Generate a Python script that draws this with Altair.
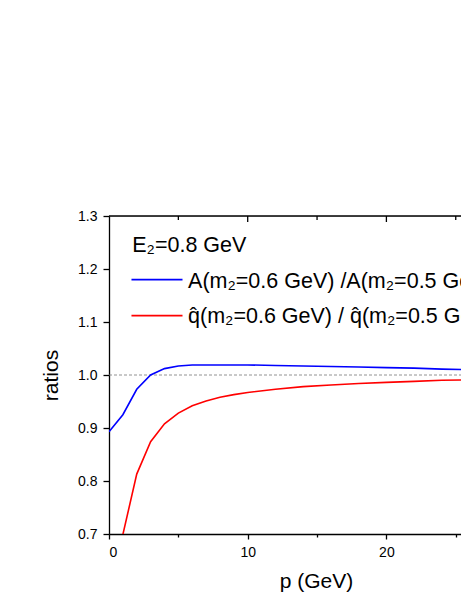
import altair as alt
import pandas as pd

# ---- data ----
p_blue = [0, 1, 2, 3, 4, 5, 6, 7, 8, 9, 10, 12, 14, 16, 18, 20, 22, 24, 26]
ratio_A = [0.893, 0.925, 0.973, 1.000, 1.012, 1.017, 1.019, 1.019, 1.019, 1.019,
           1.019, 1.018, 1.017, 1.016, 1.015, 1.014, 1.013, 1.011, 1.010]
p_red = [1, 2, 3, 4, 5, 6, 7, 8, 9, 10, 12, 14, 16, 18, 20, 22, 24, 26]
ratio_q = [0.699, 0.813, 0.874, 0.908, 0.928, 0.942, 0.951, 0.958, 0.963, 0.967,
           0.973, 0.978, 0.981, 0.984, 0.986, 0.988, 0.990, 0.991]

top_major = [10, 20]
top_minor = [5, 15, 25]
x_ticks = [0, 5, 10, 15, 20, 25]
y_ticks = [0.7, 0.75, 0.8, 0.85, 0.9, 0.95, 1.0, 1.05, 1.1, 1.15, 1.2, 1.25, 1.3]

legend_title = "E\u2082=0.8 GeV"
legend_labels = ["A(m\u2082=0.6 GeV) /A(m\u2082=0.5 GeV)",
                 " q\u0302(m\u2082=0.6 GeV) / q\u0302(m\u2082=0.5 GeV)"]
legend_colors = ["#0000ff", "#ff0000"]
legend_line_y = [1.180, 1.112]
legend_text_y = [1.1647, 1.0973]

FONT = "Liberation Sans"
PX_PER_UNIT = 13.87
W, H = 352, 318
XMAX = W / PX_PER_UNIT

xscale = alt.Scale(domain=[0, XMAX], nice=False, zero=False)
yscale = alt.Scale(domain=[0.7, 1.3], nice=False, zero=False)

blue_df = pd.DataFrame({"p": p_blue, "r": ratio_A})
red_df = pd.DataFrame({"p": p_red, "r": ratio_q})

x_axis = alt.Axis(
    values=x_ticks,
    labelExpr="datum.value % 10 == 0 ? datum.label : ''",
    tickSize={"condition": {"test": "datum.value % 10 == 0", "value": 5}, "value": 3},
    labelPadding=6, labelFontSize=14, labelFont=FONT, labelColor="black",
    title="p (GeV)", titleFont=FONT, titleFontSize=21, titleFontWeight="normal",
    titleX=207, titleY=53, titleBaseline="alphabetic", titleAlign="center",
    titleColor="black", grid=False, domainColor="black", domainWidth=1.3,
    tickColor="black", tickWidth=1.3,
)
y_axis = alt.Axis(
    values=y_ticks,
    format=".1f",
    labelExpr="round(datum.value*20) % 2 == 0 ? datum.label : ''",
    tickSize={"condition": {"test": "round(datum.value*20) % 2 == 0", "value": 6}, "value": 3},
    labelPadding=6, labelFontSize=14, labelFont=FONT, labelColor="black",
    title="ratios", titleFont=FONT, titleFontSize=21, titleFontWeight="normal",
    titleX=-52, titleY=H / 2, titleAngle=-90, titleBaseline="alphabetic",
    titleAlign="center", titleColor="black", grid=False, domainColor="black",
    domainWidth=1.3, tickColor="black", tickWidth=1.3,
)

blue = alt.Chart(blue_df).mark_line(color="#0000ff", strokeWidth=1.6, clip=True).encode(
    x=alt.X("p:Q", scale=xscale, axis=x_axis),
    y=alt.Y("r:Q", scale=yscale, axis=y_axis),
)
red = alt.Chart(red_df).mark_line(color="#ff0000", strokeWidth=1.6, clip=True).encode(
    x=alt.X("p:Q", scale=xscale),
    y=alt.Y("r:Q", scale=yscale),
)

ref_line = alt.Chart(pd.DataFrame({"y": [1.0]})).mark_rule(
    color="#777777", strokeWidth=0.8, strokeDash=[3, 2]
).encode(y=alt.Y("y:Q", scale=yscale), x=alt.value(0), x2=alt.value(W))

top_border = alt.Chart(pd.DataFrame({"y": [1.3]})).mark_rule(
    color="black", strokeWidth=1.3
).encode(y=alt.Y("y:Q", scale=yscale), x=alt.value(0), x2=alt.value(W))

top_maj = alt.Chart(pd.DataFrame({"p": top_major})).mark_rule(
    color="black", strokeWidth=1.3
).encode(x=alt.X("p:Q", scale=xscale), y=alt.value(0), y2=alt.value(6))
top_min = alt.Chart(pd.DataFrame({"p": top_minor})).mark_rule(
    color="black", strokeWidth=1.3, clip=True
).encode(x=alt.X("p:Q", scale=xscale), y=alt.value(0), y2=alt.value(4))

leg_lines_df = pd.DataFrame({
    "x1": [1.62, 1.62], "x2": [5.30, 5.30], "y": legend_line_y, "c": legend_colors,
})
leg_lines = alt.Chart(leg_lines_df).mark_rule(strokeWidth=1.6).encode(
    x=alt.X("x1:Q", scale=xscale), x2="x2:Q",
    y=alt.Y("y:Q", scale=yscale),
    color=alt.Color("c:N", scale=None),
)

leg_text_df = pd.DataFrame({
    "x": [1.675, 5.70, 5.70], "y": [1.2314] + legend_text_y,
    "t": [legend_title] + legend_labels,
})
leg_text = alt.Chart(leg_text_df).mark_text(
    align="left", baseline="alphabetic", fontSize=21.5, font=FONT, color="black"
).encode(
    x=alt.X("x:Q", scale=xscale),
    y=alt.Y("y:Q", scale=yscale),
    text="t:N",
)

chart = alt.layer(
    ref_line, blue, red, top_border, top_maj, top_min, leg_lines, leg_text
).properties(
    width=W, height=H,
    autosize=alt.AutoSizeParams(type="none"),
    padding={"left": 101, "top": 208, "right": 0, "bottom": 58},
).configure_view(stroke=None).configure(background="white")

chart.save("out.html", embed_options={"renderer": "svg", "actions": False})
